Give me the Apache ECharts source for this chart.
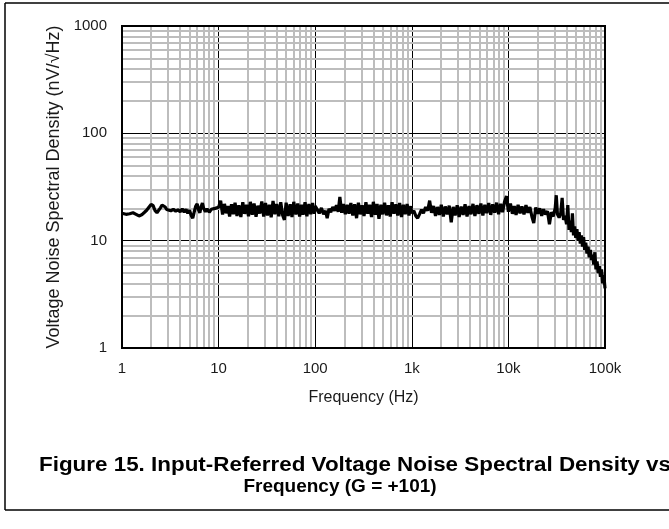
<!DOCTYPE html>
<html>
<head>
<meta charset="utf-8">
<script src="https://cdn.jsdelivr.net/npm/echarts@6/dist/echarts.min.js"></script>
<style>
html,body{margin:0;padding:0;background:#fff;}
#chart{width:669px;height:529px;}
</style>
</head>
<body>
<div id="chart"></div>
<script>
// Frequency (Hz)
var freqHz = [
  1,1.1,1.2,1.3,1.4,1.5,1.6,1.7,1.8,1.9,2.0,2.1,2.2,2.3,2.4,2.5,2.6,2.7,2.8,2.9,3.0,3.2,3.4,3.6,3.8,4.0,4.2,4.4,4.6,4.8,5.0,5.2,5.4,5.6,5.8,6.0,6.2,6.4,6.6,6.8,7.0,7.3,7.6,8.0,8.4,8.8,9.2,9.6,10,
  10.5,11,11.5,12,12.5,13,13.6,14.2,14.8,15.5,16.2,17,17.8,18.6,19.5,20.4,21.3,22.3,23.3,24.4,25.5,26.7,28,29.3,30.6,32,33.5,35,36.6,38.3,40,42,44,46,48,50,52.5,55,57.5,60,63,66,69,72,75,78.5,82,86,90,94,98,100,
  105,110,116,122,128,133,139,145,152,159,166,173,180,188,196,205,214,224,234,245,256,268,280,293,306,320,335,350,366,383,400,418,437,457,478,500,523,547,572,598,625,654,684,715,748,782,818,855,894,935,978,1000,
  1050,1100,1150,1200,1260,1320,1390,1460,1530,1600,1680,1760,1840,1930,2020,2120,2220,2330,2440,2560,2680,2810,2950,3090,3240,3400,3560,3730,3910,4100,4300,4500,4720,4950,5190,5440,5700,5970,6260,6560,6880,7210,7560,7920,8300,8700,9120,9560,10000,
  10500,11000,11500,12000,12600,13200,13800,14500,15200,15900,16700,17500,18300,19200,20100,21100,22100,23100,24200,25400,26600,27800,29100,30500,31300,32200,33500,34800,36000,37200,38600,
  40000,41200,42400,43600,44800,46000,47200,48500,49800,51200,52600,54000,55500,57000,58500,60000,61600,63200,65000,66800,68600,70500,72400,74400,76400,78500,80600,82800,85000,87300,89700,92100,94600,97200,100000
];
// Voltage noise spectral density (nV/rtHz)
var noiseDensity = [
  18,17.6,17.8,18.2,17.6,17.0,17.4,18.3,19.2,20.5,21.8,21.2,19.0,18.2,18.6,20.2,21.5,22.0,20.6,19.5,19.8,19.0,19.6,18.8,19.4,18.6,19.8,18.4,19.6,18.0,19.2,17.2,16.2,18.6,21.0,22.0,19.4,18.2,20.8,22.4,20.0,18.6,19.8,18.4,19.6,18.8,20.0,19.2,20.5,
  23.5,17.5,22.0,18.0,21.0,16.8,21.8,17.6,22.6,17.0,21.4,16.6,22.8,17.8,21.6,16.9,23.0,17.4,22.2,16.7,21.2,17.9,23.2,16.8,22.4,17.2,21.6,16.5,23.4,17.6,22.0,16.9,22.8,17.3,15.6,22.6,17.0,21.8,16.6,23.0,17.5,22.2,16.8,21.6,17.4,22.8,16.9,21.9,17.6,22.4,17.8,21.0,
  19.5,18.0,20.2,17.6,19.0,16.2,19.8,18.4,20.6,19.0,21.4,18.6,25.5,18.2,22.0,17.6,21.6,17.8,22.4,17.2,21.8,16.2,22.6,17.6,21.4,17.0,22.8,17.8,21.6,16.6,23.0,17.4,22.0,16.0,21.6,17.6,22.6,17.2,21.4,16.8,22.8,17.8,21.8,17.2,22.4,16.6,21.6,17.6,22.0,17.2,21.0,18.0,
  19.0,17.0,16.2,17.6,19.4,18.0,20.6,19.0,23.6,18.2,21.0,17.0,20.6,17.4,21.6,16.8,20.8,17.6,21.2,14.8,20.6,17.2,21.4,16.6,20.8,17.4,21.8,16.8,21.0,17.6,22.0,17.0,21.4,17.8,22.2,17.2,21.6,18.0,22.4,17.4,21.8,18.2,22.6,17.6,22.0,18.4,23.0,26.0,18.6,
  22.2,17.8,21.0,17.4,21.6,18.0,20.8,17.6,21.4,18.2,20.6,16.8,14.6,20.4,17.8,20.0,17.0,19.6,17.6,18.8,14.2,18.4,16.8,20.0,26.5,17.6,16.4,18.0,25.0,15.6,17.0,
  14.2,21.5,12.6,15.4,12.0,18.0,11.2,13.6,10.6,12.8,10.0,12.0,9.4,11.2,8.8,10.8,8.2,9.6,7.6,8.8,7.0,8.2,6.6,7.4,6.0,7.8,5.4,6.4,5.0,5.8,4.6,5.4,4.0,4.8,3.6
];
var xTickLabels = {1:'1',10:'10',100:'100',1000:'1k',10000:'10k',100000:'100k'};
var yTickLabels = {1:'1',10:'10',100:'100',1000:'1000'};
var xMinorGrid = [2,3,4,5,6,7,8,9,20,30,40,50,60,70,80,90,200,300,400,500,600,700,800,900,2000,3000,4000,5000,6000,7000,8000,9000,20000,30000,40000,50000,60000,70000,80000,90000];
var yMinorGrid = [2,3,4,5,6,7,8,9,20,30,40,50,60,70,80,90,200,300,400,500,600,700,800,900];

var FONT = '"Liberation Sans", Arial, sans-serif';
var seriesData = freqHz.map(function(f, i){ return [f, noiseDensity[i]]; });
var minorLines = xMinorGrid.map(function(v){ return {xAxis: v}; })
  .concat(yMinorGrid.map(function(v){ return {yAxis: v}; }));

var chart = echarts.init(document.getElementById('chart'), null, {renderer:'canvas'});
chart.setOption({
  animation: false,
  backgroundColor: '#fff',
  grid: {left:122, right:64, top:26, bottom:181, show:true, borderColor:'#000', borderWidth:2, backgroundColor:'transparent', z:10},
  xAxis: {
    type:'log', logBase:10, min:1, max:100000,
    axisLine:{show:true, lineStyle:{color:'#000', width:2}},
    axisTick:{show:false},
    splitLine:{show:true, lineStyle:{color:'#000', width:1}},
    axisLabel:{margin:13, fontFamily:FONT, fontSize:15, color:'#1a1a1a', formatter:function(v){ return xTickLabels[Math.round(v)] || ''; }},
    name:'Frequency (Hz)', nameLocation:'middle', nameGap:42,
    nameTextStyle:{fontFamily:FONT, fontSize:16, color:'#1a1a1a'}
  },
  yAxis: {
    type:'log', logBase:10, min:1, max:1000,
    axisLine:{show:true, lineStyle:{color:'#000', width:2}},
    axisTick:{show:false},
    splitLine:{show:true, lineStyle:{color:'#000', width:1}},
    axisLabel:{margin:15, fontFamily:FONT, fontSize:15, color:'#1a1a1a', formatter:function(v){ return yTickLabels[Math.round(v)] || ''; }},
    name:'Voltage Noise Spectral Density (nV/\u221AHz)', nameLocation:'middle', nameGap:51,
    nameTextStyle:{fontFamily:FONT, fontSize:18, color:'#1a1a1a'}
  },
  series: [
    {
      type:'line', data:[], z:1, silent:true,
      markLine:{silent:true, symbol:'none', label:{show:false},
        lineStyle:{color:'#bdbdbd', width:2, type:'solid'},
        data:minorLines, animation:false}
    },
    {
      type:'line', data:seriesData, z:5, showSymbol:false, symbol:'none',
      lineStyle:{color:'#000', width:3.2}, silent:true
    }
  ],
  graphic: [
    {type:'line', shape:{x1:5, y1:3, x2:669, y2:3}, style:{stroke:'#000', lineWidth:1.5}},
    {type:'line', shape:{x1:5, y1:3, x2:5, y2:510}, style:{stroke:'#000', lineWidth:1.5}},
    {type:'line', shape:{x1:5, y1:510, x2:669, y2:510}, style:{stroke:'#000', lineWidth:1.5}},
    {type:'text', x:355, y:465, scaleX:1.12, style:{text:'Figure 15. Input-Referred Voltage Noise Spectral Density vs', fontFamily:FONT, fontWeight:'bold', fontSize:20, fill:'#000', textAlign:'center', textVerticalAlign:'middle'}},
    {type:'text', x:340, y:487, style:{text:'Frequency (G = +101)', fontFamily:FONT, fontWeight:'bold', fontSize:19, fill:'#000', textAlign:'center', textVerticalAlign:'middle'}}
  ]
});
</script>
</body>
</html>
